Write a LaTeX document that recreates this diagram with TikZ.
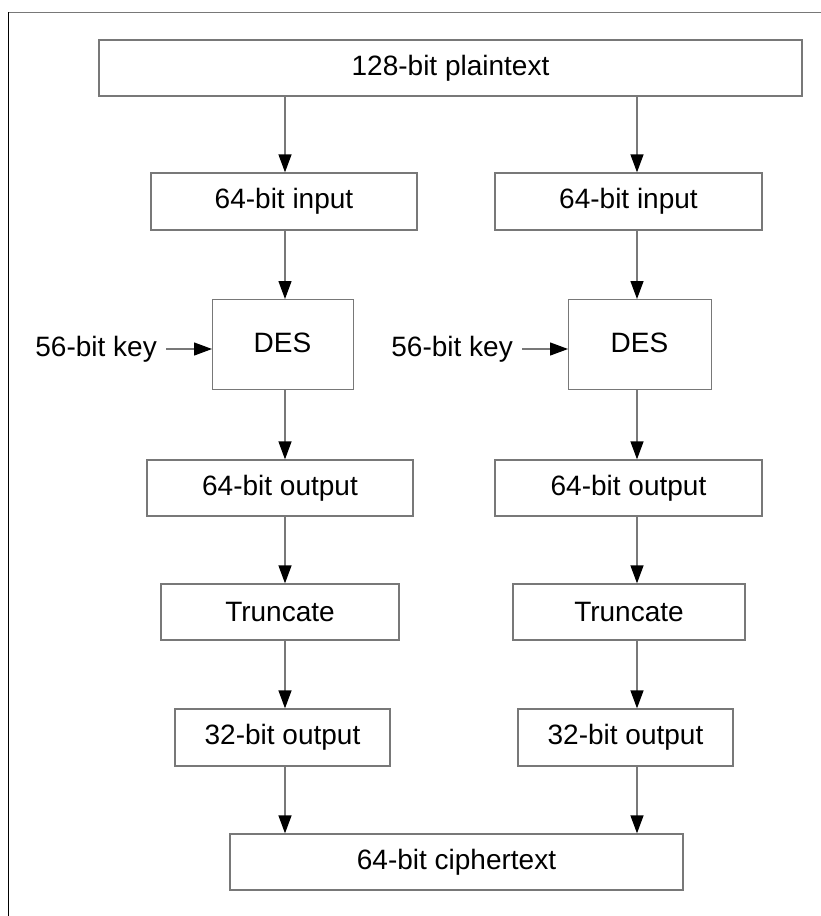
\documentclass[tikz,border=0pt]{standalone}
\usepackage{fontspec}
\setmainfont{Liberation Sans}
\usetikzlibrary{arrows.meta}
\definecolor{edge}{RGB}{120,120,120}
\begin{document}
\begin{tikzpicture}[x=1pt,y=-1pt,
  blk/.style={draw=edge,line width=1.3pt,fill=white,inner sep=0pt,font=\fontsize{28}{32}\selectfont},
  flow/.style={draw=edge,line width=1.3pt,-{Triangle[length=18pt,width=13pt,color=black]}},
  lbl/.style={inner sep=0pt,font=\fontsize{28}{32}\selectfont}]
\useasboundingbox (0,0) rectangle (821,916);
\fill[white] (0,0) rectangle (821,916);
% page frame
\draw[edge,line width=1pt] (8,12) -- (821,12);
\draw[black,line width=1pt] (8,12) -- (8,916);
% boxes: name, left, top, right, bottom, text
\newcommand\boxat[6]{\node[blk,minimum width={#4-#2},minimum height={#5-#3}] (#1) at ({(#2+#4)/2},{(#3+#5)/2}) {#6};}
\boxat{pt}{99}{40}{802}{96}{128-bit plaintext}
\boxat{inA}{151}{173}{417}{230}{64-bit input}
\boxat{inB}{495}{173}{762}{230}{64-bit input}
\node[blk,minimum width=141,minimum height=90,anchor=north west] (desA) at (212,299) {};
\node[blk,minimum width=143,minimum height=90,anchor=north west] (desB) at (568,299) {};
\node[lbl] at (282.5,343) {DES};
\node[lbl] at (639.5,343) {DES};
\boxat{outA}{147}{460}{413}{516}{64-bit output}
\boxat{outB}{495}{460}{762}{516}{64-bit output}
\boxat{trA}{161}{584}{399}{640}{Truncate}
\boxat{trB}{513}{584}{745}{640}{Truncate}
\boxat{sA}{175}{709}{390}{766}{32-bit output}
\boxat{sB}{518}{709}{733}{766}{32-bit output}
\boxat{ct}{230}{834}{683}{890}{64-bit ciphertext}
% key inputs
\node[lbl,anchor=east] (kA) at (157,349) {56-bit key};
\node[lbl,anchor=east] (kB) at (513,349) {56-bit key};
\draw[flow] (kA.east)+(9,0) -- (desA.west |- kA.east);
\draw[flow] (kB.east)+(9,0) -- (desB.west |- kB.east);
% left branch
\coordinate (xa) at (285,0);
\coordinate (xb) at (637,0);
\draw[flow] (pt.south -| xa) -- (inA.north -| xa);
\draw[flow] (inA.south -| xa) -- (desA.north -| xa);
\draw[flow] (desA.south -| xa) -- (outA.north -| xa);
\draw[flow] (outA.south -| xa) -- (trA.north -| xa);
\draw[flow] (trA.south -| xa) -- (sA.north -| xa);
\draw[flow] (sA.south -| xa) -- (ct.north -| xa);
% right branch
\draw[flow] (pt.south -| xb) -- (inB.north -| xb);
\draw[flow] (inB.south -| xb) -- (desB.north -| xb);
\draw[flow] (desB.south -| xb) -- (outB.north -| xb);
\draw[flow] (outB.south -| xb) -- (trB.north -| xb);
\draw[flow] (trB.south -| xb) -- (sB.north -| xb);
\draw[flow] (sB.south -| xb) -- (ct.north -| xb);
\end{tikzpicture}
\end{document}
